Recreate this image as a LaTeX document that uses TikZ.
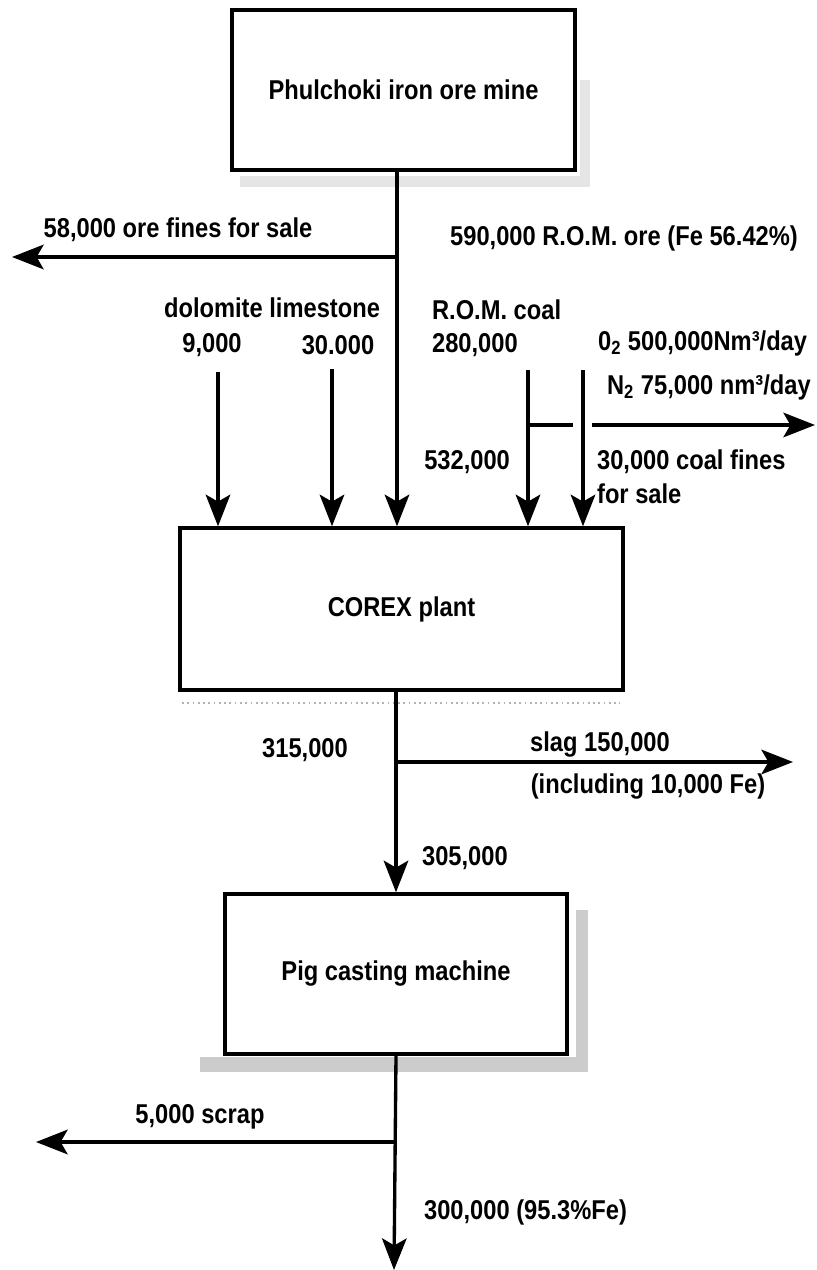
\documentclass[tikz,border=0pt]{standalone}
\usepackage{fontspec}
\setmainfont{Liberation Sans}[FakeStretch=0.87]
\usetikzlibrary{arrows.meta, positioning}

\newcommand{\flowfont}{\fontsize{15.5}{19}\selectfont\bfseries}

\begin{document}
\begin{tikzpicture}[
    x=0.02cm, y=-0.02cm,
    box/.style   ={draw, line width=2pt, fill=white, align=center,
                   font=\flowfont, inner sep=0pt},
    lbl/.style   ={font=\flowfont, inner sep=1pt, align=left},
    arr/.style   ={-{Stealth[length=18pt, width=14pt, inset=4pt]}, line width=1.9pt},
    flow/.style  ={line width=1.9pt},
    shade/.style ={fill=black!20, draw=none}
]
\useasboundingbox (0,0) rectangle (817,1270);

%% ── Shadows ──────────────────────────────────────────────────────
\fill[shade, fill=black!10] (240,176) rectangle (590,187);
\fill[shade, fill=black!10] (580,80)  rectangle (590,187);
\draw[black!30, dotted, line width=1pt] (182,703) -- (620,703);
\fill[shade] (200,1057) rectangle (588,1072);
\fill[shade] (576,910)  rectangle (588,1072);

%% ── Process boxes ────────────────────────────────────────────────
\node[box, minimum width=6.86cm, minimum height=3.2cm] (mine)  at (403.5, 90)
    {Phulchoki iron ore mine};
\node[box, minimum width=8.86cm, minimum height=3.24cm] (corex) at (401.5, 609)
    {COREX plant};
\node[box, minimum width=6.84cm, minimum height=3.2cm] (pig)   at (396, 974)
    {Pig casting machine};

%% ── Labels ───────────────────────────────────────────────────────
\node[lbl] (finesl)  at (178, 230) {58,000 ore fines for sale};
\node[lbl] (orel)    at (624, 238) {590,000 R.O.M. ore (Fe 56.42\%)};
\node[lbl] (addl)    at (272, 308) {dolomite limestone};
\node[lbl] (dolol)   at (212, 345) {9,000};
\node[lbl] (limel)   at (338, 345) {30.000};
\node[lbl, anchor=west] (coall)  at (430, 310) {R.O.M. coal};
\node[lbl, anchor=west] (coalq)  at (430, 345) {280,000};
\node[lbl, anchor=west] (oxyl)   at (596, 343) {0\textsubscript{2} 500,000Nm³/day};
\node[lbl, anchor=west] (nitl)   at (605, 387) {N\textsubscript{2} 75,000 nm³/day};
\node[lbl, anchor=east] (coalin) at (512, 462) {532,000};
\node[lbl, anchor=north west] (cfinesl) at (595, 448) {30,000 coal fines\\for sale};
\node[lbl] (hotl)    at (305, 750) {315,000};
\node[lbl] (slagl)   at (600, 745) {slag 150,000};
\node[lbl] (slagfe)  at (648, 787) {(including 10,000 Fe)};
\node[lbl, anchor=west] (pigin)  at (420, 858) {305,000};
\node[lbl] (scrapl)  at (200, 1117) {5,000 scrap};
\node[lbl, anchor=west] (prodl)  at (422, 1212) {300,000 (95.3\%Fe)};

%% ── Junctions and free ends ──────────────────────────────────────
\coordinate (finessplit) at (397, 257);
\coordinate (finesend)   at (12, 257);
\coordinate (dolotop)    at (218, 372);
\coordinate (limetop)    at (332, 369);
\coordinate (coaltop)    at (528, 370);
\coordinate (gastop)     at (583, 370);
\coordinate (cfsplit)    at (528, 425);
\coordinate (cfgap)      at (573, 425);
\coordinate (cfstart)    at (592, 425);
\coordinate (cfend)      at (815, 425);
\coordinate (slagsplit)  at (396, 762);
\coordinate (slagend)    at (793, 762);
\coordinate (scrapsplit) at (394, 1142);
\coordinate (scrapend)   at (36, 1142);
\coordinate (prodend)    at (394, 1270);

%% ── Ore from the mine ────────────────────────────────────────────
\draw[arr] (finessplit |- mine.south) -- (finessplit |- corex.north);
\draw[arr] (finessplit) -- (finesend);

%% ── Additives, coal and gases into COREX ─────────────────────────
\draw[arr] (dolotop) -- (dolotop |- corex.north);
\draw[arr] (limetop) -- (limetop |- corex.north);
\draw[arr] (coaltop) -- (coaltop |- corex.north);
\draw[arr] (gastop)  -- (gastop |- corex.north);

%% ── Coal fines for sale ──────────────────────────────────────────
\draw[flow] (cfsplit) -- (cfgap);
\draw[arr]  (cfstart) -- (cfend);

%% ── Hot metal and slag ───────────────────────────────────────────
\draw[arr] (slagsplit |- corex.south) -- (slagsplit |- pig.north);
\draw[arr] (slagsplit) -- (slagend);

%% ── Pig iron and scrap ───────────────────────────────────────────
\draw[arr] (pig.south) -- (prodend);
\draw[arr] (scrapsplit) -- (scrapend);

\end{tikzpicture}
\end{document}
